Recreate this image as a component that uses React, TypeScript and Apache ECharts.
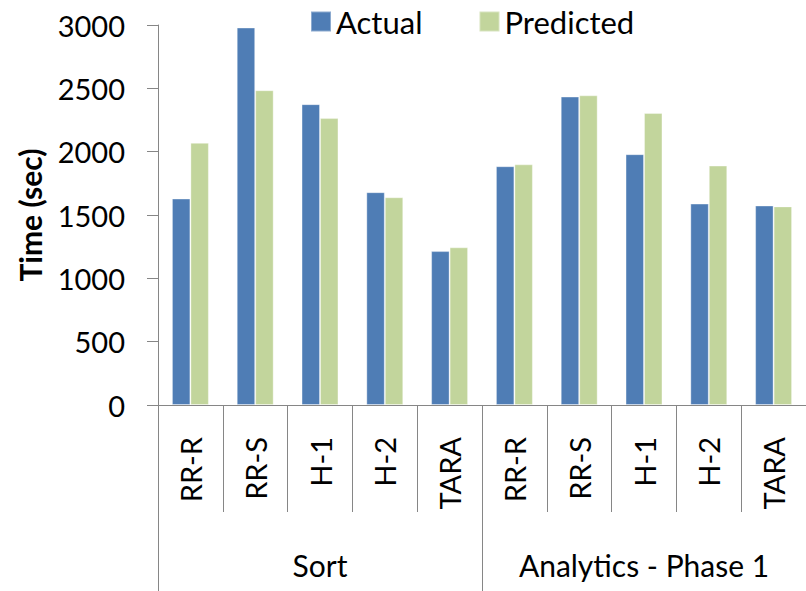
import React, { useEffect, useRef } from "react";
import * as echarts from "echarts";

const categories = ["RR-R", "RR-S", "H-1", "H-2", "TARA", "RR-R", "RR-S", "H-1", "H-2", "TARA"];
const groups = ["Sort", "Analytics - Phase 1"];
const actual = [1630, 2980, 2375, 1680, 1215, 1885, 2435, 1980, 1590, 1575];
const predicted = [2070, 2485, 2265, 1640, 1245, 1900, 2445, 2305, 1890, 1568];
const seriesNames = ["Actual", "Predicted"];

const FONT = "Lato, 'Noto Sans', sans-serif";
const AXIS_COLOR = "#868686";

export default function App() {
  const ref = useRef<HTMLDivElement>(null);
  useEffect(() => {
    if (!ref.current) return;
    const chart = echarts.init(ref.current, null, { renderer: "svg" });
    chart.setOption({
      animation: false,
      backgroundColor: "#ffffff",
      textStyle: { fontFamily: FONT },
      legend: {
        data: seriesNames,
        top: 6,
        left: 310,
        padding: 0,
        itemWidth: 20,
        itemHeight: 20,
        itemGap: 56,
        icon: "rect",
        textStyle: { fontSize: 31, color: "#000", fontFamily: FONT },
      },
      grid: { left: 158, right: -6, top: 25, bottom: 186, containLabel: false },
      xAxis: [
        {
          type: "category",
          data: categories,
          axisLine: { show: true, lineStyle: { color: AXIS_COLOR, width: 1 } },
          axisTick: { show: true, interval: 0, length: 107, lineStyle: { color: AXIS_COLOR } },
          axisLabel: {
            interval: 0,
            rotate: 90,
            margin: 32,
            fontSize: 29,
            color: "#000",
            fontFamily: FONT,
          },
          splitLine: { show: false },
        },
        {
          type: "category",
          data: groups,
          position: "bottom",
          axisLine: { show: false },
          axisTick: { show: true, interval: 0, length: 186, lineStyle: { color: AXIS_COLOR } },
          axisLabel: { interval: 0, margin: 145, fontSize: 30, color: "#000", fontFamily: FONT },
          splitLine: { show: false },
        },
      ],
      yAxis: {
        type: "value",
        min: 0,
        max: 3000,
        interval: 500,
        name: "Time (sec)",
        nameLocation: "middle",
        nameGap: 113,
        nameTextStyle: { fontSize: 30, fontWeight: "bold", color: "#000", fontFamily: FONT },
        axisLine: { show: true, lineStyle: { color: AXIS_COLOR, width: 1 } },
        axisTick: { show: true, length: 11, lineStyle: { color: AXIS_COLOR } },
        axisLabel: {
          margin: 33,
          fontSize: 29,
          color: "#000",
          fontFamily: FONT,
          formatter: (v: number) => String(v),
        },
        splitLine: { show: false },
      },
      series: [
        {
          name: seriesNames[0],
          type: "bar",
          data: actual,
          barWidth: "28.5%",
          barGap: "0%",
          itemStyle: { color: "#4F7DB5", borderColor: "rgba(255,255,255,0.35)", borderWidth: 1 },
        },
        {
          name: seriesNames[1],
          type: "bar",
          data: predicted,
          barWidth: "28.5%",
          barGap: "0%",
          itemStyle: { color: "#C2D59C", borderColor: "rgba(255,255,255,0.35)", borderWidth: 1 },
        },
      ],
    });
    return () => chart.dispose();
  }, []);
  return (
    <div
      ref={ref}
      style={{ position: "fixed", left: 0, top: 0, width: 806, height: 591 }}
    />
  );
}
